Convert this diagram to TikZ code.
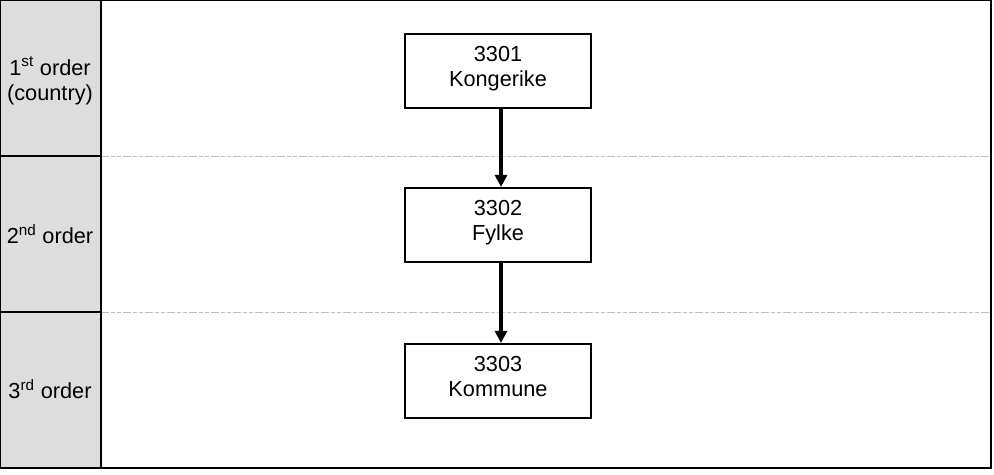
\documentclass[tikz,border=0pt]{standalone}
\usepackage{fontspec}
\setmainfont{Liberation Sans}
\usetikzlibrary{arrows.meta}
\definecolor{labelgray}{HTML}{DDDDDD}
\definecolor{divgray}{HTML}{BFBFBF}
\newcommand{\lowstrut}{\rule[-7pt]{0pt}{7pt}}
\tikzset{
  px/.style={x=0.75pt,y=-0.75pt},
  unitbox/.style={draw=black,line width=1.6pt,fill=white,minimum width=139.5pt,minimum height=55.5pt,align=center,font=\fontsize{16.3}{18.5}\selectfont,inner sep=0pt},
  levellabel/.style={align=center,font=\fontsize{16.3}{19}\selectfont,inner sep=0pt},
  flow/.style={draw=black,line width=2.4pt,-{Triangle[length=9pt,width=9pt]}},
  rowline/.style={draw=divgray,line width=0.75pt,dash pattern=on 6pt off 1.5pt on 3pt off 1.5pt on 3pt off 1.5pt},
}
\begin{document}
\begin{tikzpicture}[px]
\useasboundingbox (0,0) rectangle (994,474);
\fill[labelgray] (0,0) rectangle (101,468);
\draw[rowline] (101,156) -- (991,156);
\draw[rowline] (101,312) -- (991,312);
\draw[black,line width=0.9pt] (0,156) -- (101,156);
\draw[black,line width=0.9pt] (0,312) -- (101,312);
\draw[black,line width=0.9pt] (101,0) -- (101,468);
\draw[black,line width=1.2pt] (0.6,0.6) rectangle (991,468);
\node[levellabel] (l1) at (50,81) {1\textsuperscript{st} order\\(country)};
\node[levellabel] (l2) at (50,234) {2\textsuperscript{nd} order};
\node[levellabel] (l3) at (50,389) {3\textsuperscript{rd} order};
\node[unitbox] (b1) at (498,71) {3301\\Kongerike\lowstrut};
\node[unitbox] (b2) at (498,225) {3302\\Fylke\lowstrut};
\node[unitbox] (b3) at (498,381) {3303\\Kommune\lowstrut};
\draw[flow] (b1.south) ++(3,0) coordinate (s1) -- (s1 |- b2.north);
\draw[flow] (b2.south) ++(3,0) coordinate (s2) -- (s2 |- b3.north);
\end{tikzpicture}
\end{document}
